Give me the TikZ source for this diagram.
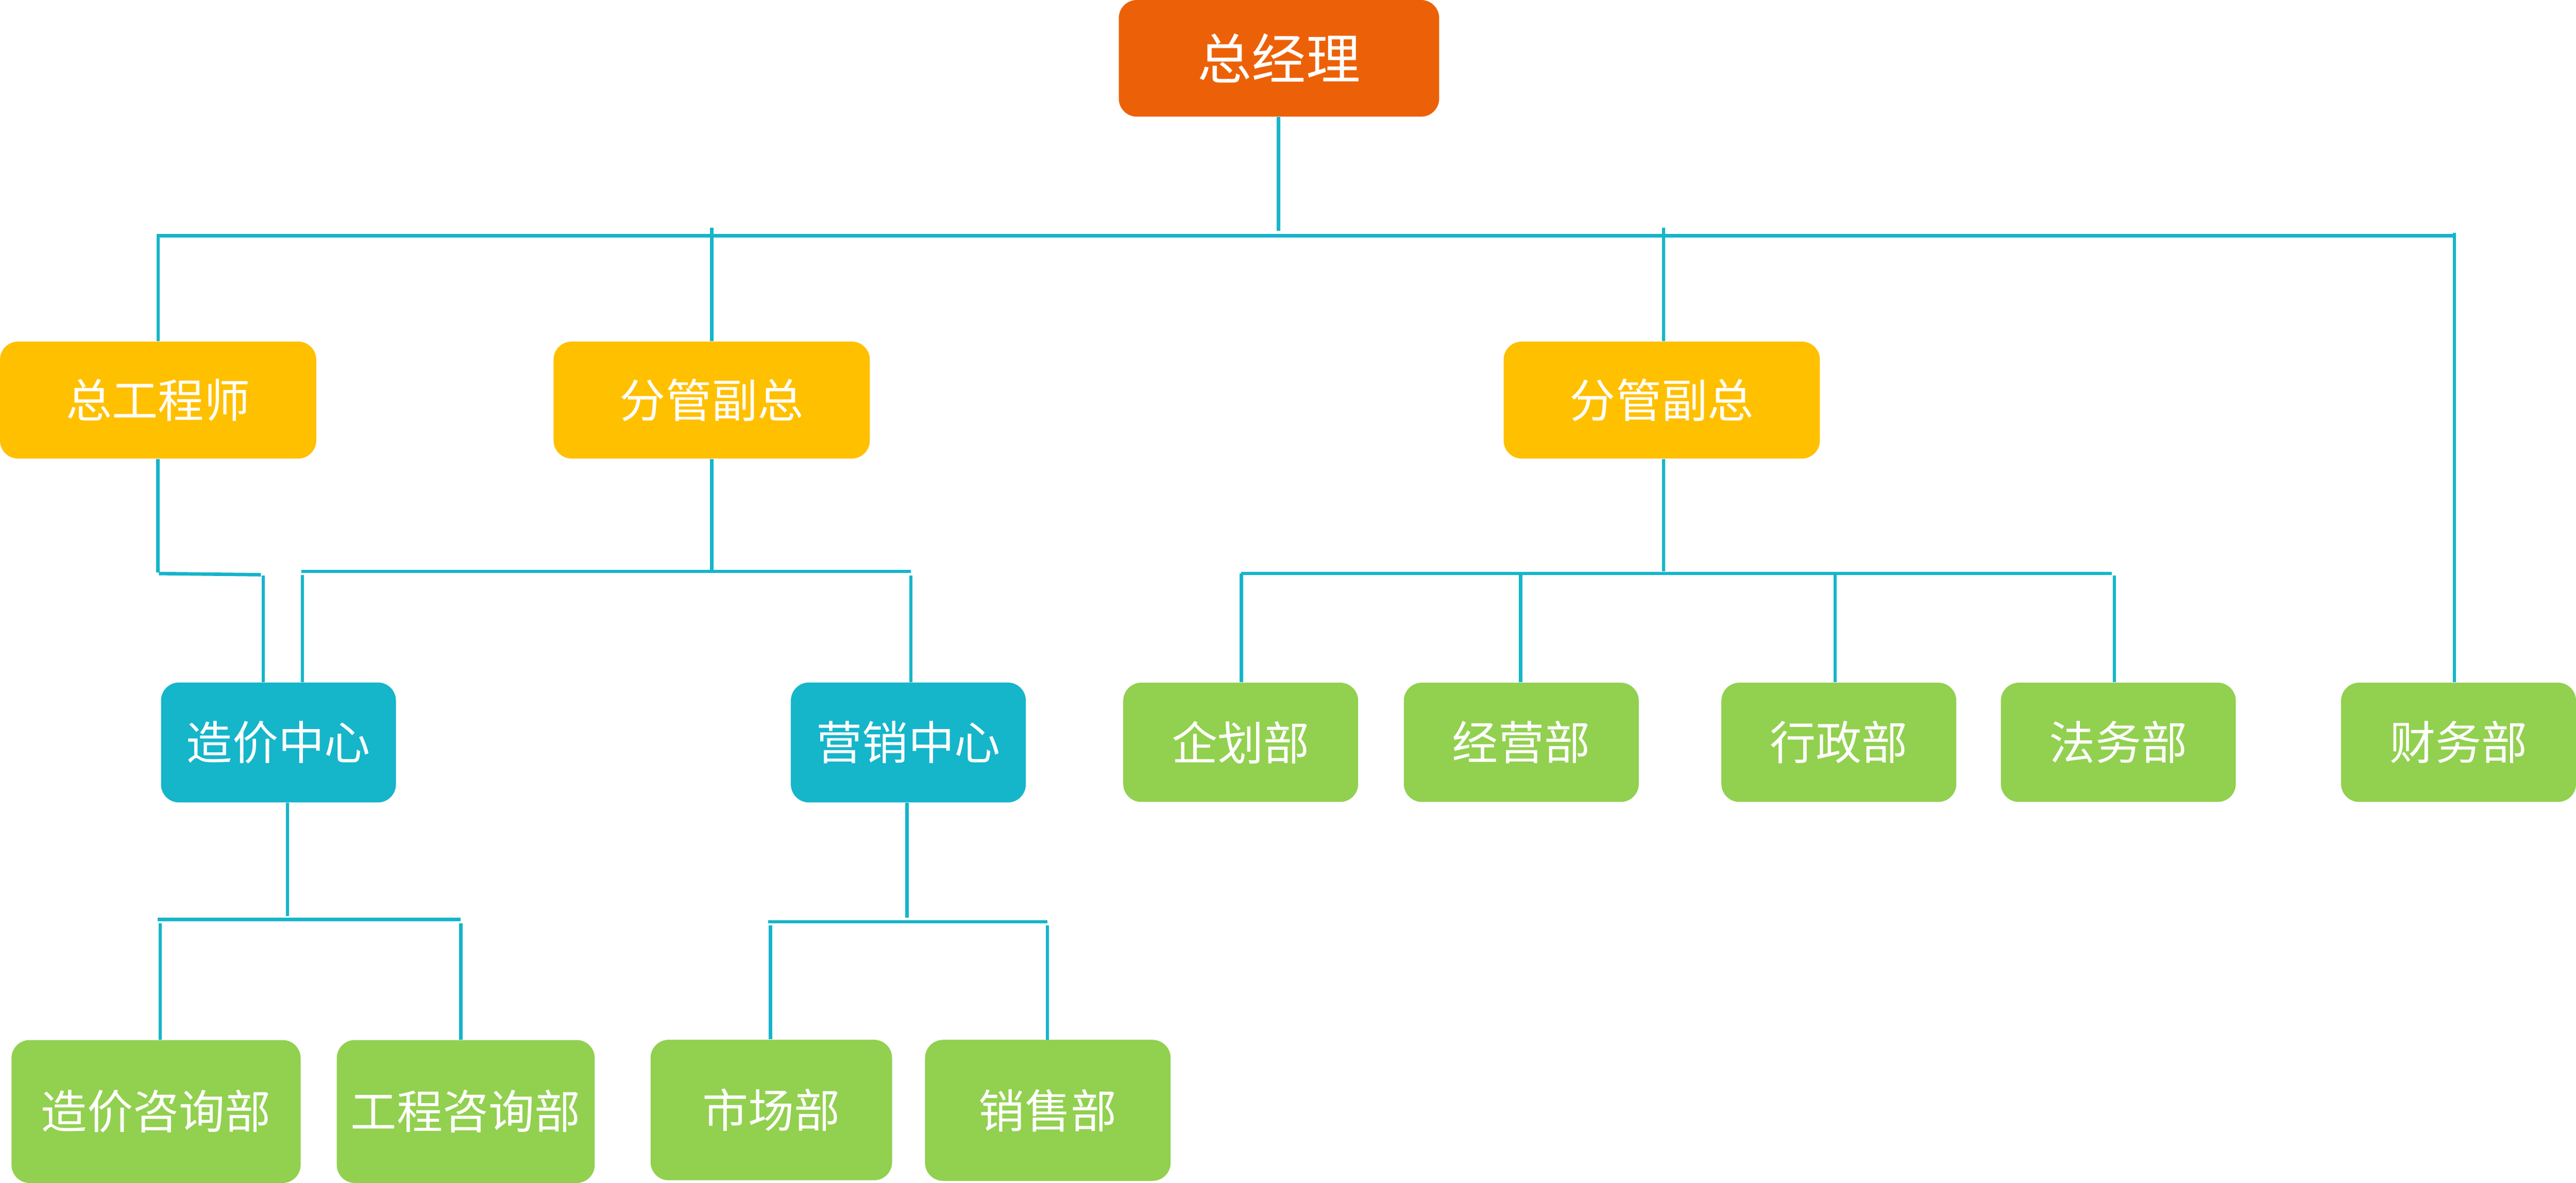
\documentclass[tikz,border=0pt]{standalone}
\usepackage{fontspec}
\newfontfamily\cjk{Noto Sans CJK SC}
\definecolor{cOrange}{HTML}{EC6108}
\definecolor{cYellow}{HTML}{FFC000}
\definecolor{cTeal}{HTML}{15B5CA}
\definecolor{cGreen}{HTML}{92D050}
\definecolor{cLine}{HTML}{15B5CA}
\begin{document}
\begin{tikzpicture}[x=1pt,y=-1pt,
  box/.style={rounded corners=11pt, inner sep=0pt, text=white, font=\cjk\fontsize{28}{30}\selectfont},
  lv1/.style={box, fill=cOrange, font=\cjk\fontsize{33}{36}\selectfont},
  lv2/.style={box, fill=cYellow, minimum width=192.5pt, minimum height=71.2pt},
  ctr/.style={box, fill=cTeal, minimum width=143pt, minimum height=73pt},
  dept/.style={box, fill=cGreen, minimum width=143pt, minimum height=72.6pt},
  conn/.style={draw=cLine, line width=2.1pt},
]
\useasboundingbox (0,0) rectangle (1568,720);

% nodes
\node[lv1, minimum width=195pt, minimum height=71pt] (gm) at (778.5,35.5) {总经理};
\node[lv2] (ce)  at (96.25,243.5) {总工程师};
\node[lv2] (vp1) at (433.2,243.5) {分管副总};
\node[lv2] (vp2) at (1011.5,243.5) {分管副总};
\node[ctr] (zj) at (169.5,451.9) {造价中心};
\node[ctr] (yx) at (552.9,451.9) {营销中心};
\node[dept] (qh) at (755.2,451.8) {企划部};
\node[dept] (jy) at (926,451.8) {经营部};
\node[dept] (xz) at (1119.3,451.8) {行政部};
\node[dept] (fw) at (1289.4,451.8) {法务部};
\node[dept] (cw) at (1496.5,451.8) {财务部};
\node[dept, minimum width=176pt, minimum height=87pt] (zjzx) at (95,676.5) {造价咨询部};
\node[dept, minimum width=157pt, minimum height=87pt] (gczx) at (283.5,676.5) {工程咨询部};
\node[dept, minimum width=147pt, minimum height=85.5pt] (sc) at (469.5,675.6) {市场部};
\node[dept, minimum width=149.5pt, minimum height=85.8pt] (xs) at (637.8,675.8) {销售部};

% level 1 connectors
\coordinate (gmB) at (778.2,140.4);
\draw[conn] (gmB |- gm.south) -- (gmB);
\coordinate (b1R) at (1494,143.4);
\draw[conn] (ce.north) |- (b1R);
\coordinate (vp1T) at (433.3,138.7);
\draw[conn] (vp1T) -- (vp1T |- vp1.north);
\coordinate (vp2T) at (1012.6,138.7);
\draw[conn] (vp2T) -- (vp2T |- vp2.north);
\coordinate (cwT) at (1494,141.8);
\draw[conn] (cwT) -- (cwT |- cw.north);

% chief engineer branch
\coordinate (ceB) at (96.1,348.3);
\draw[conn] (ceB |- ce.south) -- (ceB);
\coordinate (s1) at (96.7,349.1);
\coordinate (s2) at (158.8,349.8);
\draw[conn] (s1) -- (s2);
\coordinate (zjT1) at (160.2,350.3);
\draw[conn] (zjT1) -- (zjT1 |- zj.north);

% vice president 1 branch
\coordinate (vp1B) at (433.3,348);
\draw[conn] (vp1B |- vp1.south) -- (vp1B);
\coordinate (b2L) at (183.4,347.8);
\coordinate (b2R) at (554.4,347.8);
\draw[conn] (b2L) -- (b2R);
\coordinate (zjT2) at (184.1,350);
\draw[conn] (zjT2) -- (zjT2 |- zj.north);
\coordinate (yxT) at (554.4,350.2);
\draw[conn] (yxT) -- (yxT |- yx.north);

% vice president 2 branch
\coordinate (vp2B) at (1012.6,347.8);
\draw[conn] (vp2B |- vp2.south) -- (vp2B);
\coordinate (b3L) at (755.4,349);
\coordinate (b3R) at (1285.4,349);
\draw[conn] (b3L) -- (b3R);
\coordinate (qhT) at (755.6,349);
\draw[conn] (qhT) -- (qhT |- qh.north);
\coordinate (jyT) at (925.5,349);
\draw[conn] (jyT) -- (jyT |- jy.north);
\coordinate (xzT) at (1117,349);
\draw[conn] (xzT) -- (xzT |- xz.north);
\coordinate (fwT) at (1287,350.3);
\draw[conn] (fwT) -- (fwT |- fw.north);

% cost center branch
\coordinate (zjB) at (175,557.5);
\draw[conn] (zjB |- zj.south) -- (zjB);
\coordinate (b4L) at (96,559.6);
\coordinate (b4R) at (280.5,559.6);
\draw[conn] (b4L) -- (b4R);
\coordinate (zjzxT) at (97.5,561.9);
\draw[conn] (zjzxT) -- (zjzxT |- zjzx.north);
\coordinate (gczxT) at (280.5,561.9);
\draw[conn] (gczxT) -- (gczxT |- gczx.north);

% marketing center branch
\coordinate (yxB) at (552,558.5);
\draw[conn] (yxB |- yx.south) -- (yxB);
\coordinate (b5L) at (467.5,561);
\coordinate (b5R) at (637.4,561);
\draw[conn] (b5L) -- (b5R);
\coordinate (scT) at (469,563.1);
\draw[conn] (scT) -- (scT |- sc.north);
\coordinate (xsT) at (637.5,563.1);
\draw[conn] (xsT) -- (xsT |- xs.north);
\end{tikzpicture}
\end{document}
